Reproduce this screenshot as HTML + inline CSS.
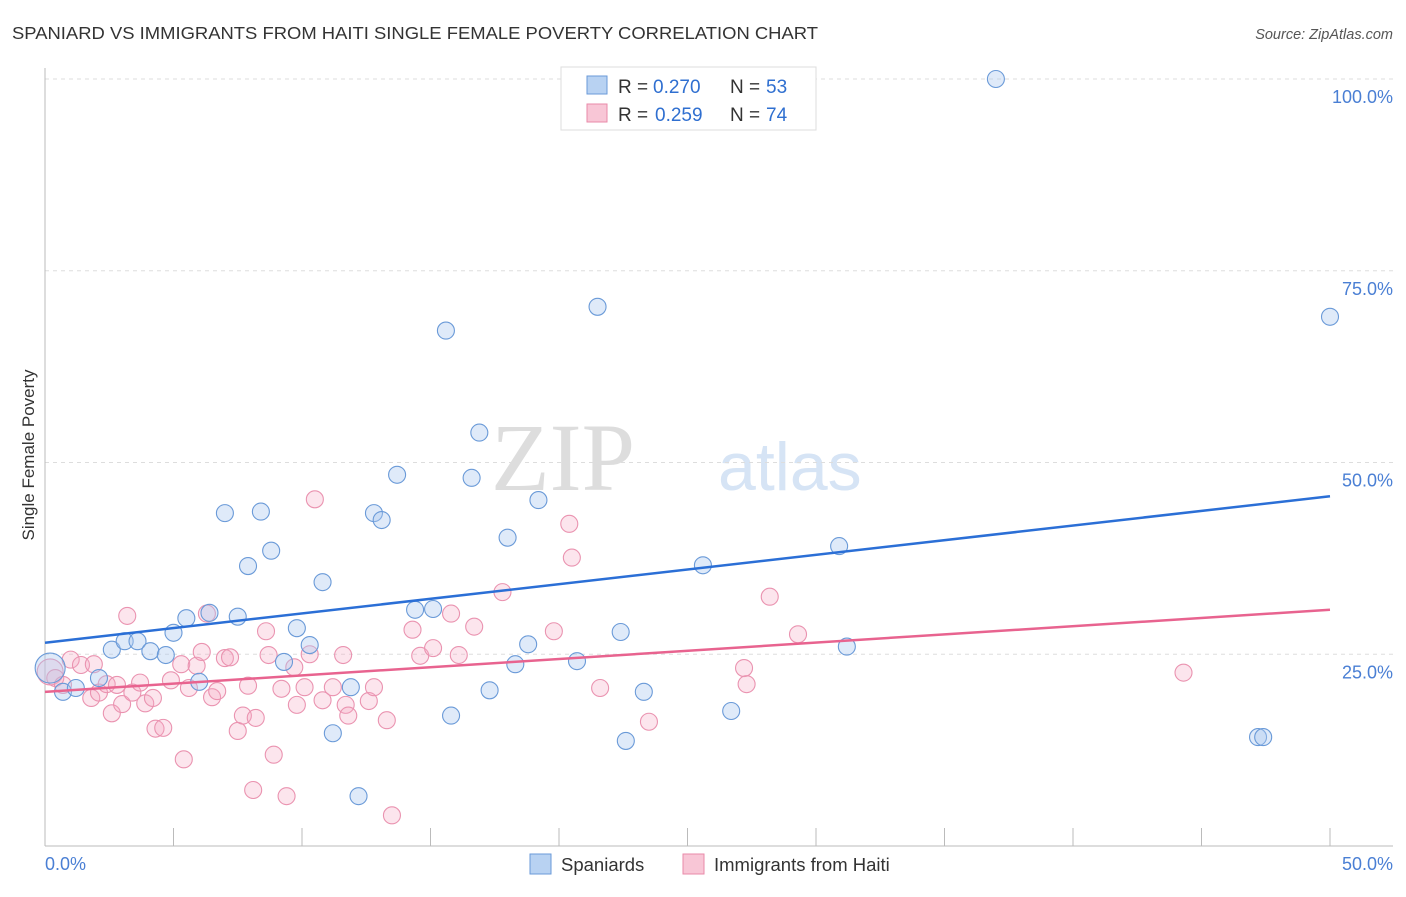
<!DOCTYPE html>
<html><head><meta charset="utf-8"><style>
body{margin:0;background:#fff;font-family:"Liberation Sans",sans-serif;}
</style></head><body>
<svg id="chart" width="1406" height="892" xmlns="http://www.w3.org/2000/svg" style="font-family:'Liberation Sans',sans-serif">
<text x="12" y="39" font-size="17.5" fill="#333" textLength="806" lengthAdjust="spacingAndGlyphs">SPANIARD VS IMMIGRANTS FROM HAITI SINGLE FEMALE POVERTY CORRELATION CHART</text>
<text x="1393" y="39" font-size="14.5" fill="#555" font-style="italic" text-anchor="end">Source: ZipAtlas.com</text>
<text x="635" y="490" font-size="96" fill="#ddd" text-anchor="end" font-family="Liberation Serif,serif">ZIP</text>
<text x="718" y="490" font-size="68" fill="#d6e4f5">atlas</text>
<text transform="translate(34,455) rotate(-90)" font-size="17" fill="#333" text-anchor="middle">Single Female Poverty</text>
<g id="grid"></g><g id="marks"></g>
<g>
<rect x="561" y="67" width="255" height="63" fill="#fff" stroke="#ddd"/>
<rect x="587" y="76" width="20" height="18" fill="#b8d2f2" stroke="#6a9ad8"/>
<rect x="587" y="104" width="20" height="18" fill="#f8c6d6" stroke="#e98aa8"/>
<g font-size="19" fill="#333">
<text x="618" y="93">R =</text><text x="653" y="93" fill="#2f6fd0">0.270</text><text x="730" y="93">N =</text><text x="766" y="93" fill="#2f6fd0">53</text></g>
<g font-size="19" fill="#333">
<text x="618" y="121">R =</text><text x="655" y="121" fill="#2f6fd0">0.259</text><text x="730" y="121">N =</text><text x="766" y="121" fill="#2f6fd0">74</text></g>
</g>
<g>
<rect x="530" y="854" width="21" height="20" fill="#b8d2f2" stroke="#6a9ad8"/>
<text x="561" y="871" font-size="18.5" fill="#333">Spaniards</text>
<rect x="683" y="854" width="21" height="20" fill="#f8c6d6" stroke="#e98aa8"/>
<text x="714" y="871" font-size="18.5" fill="#333">Immigrants from Haiti</text>
</g>
<text x="45" y="870" font-size="18" fill="#4a7fd4">0.0%</text>
<text x="1393" y="870" font-size="18" fill="#4a7fd4" text-anchor="end">50.0%</text>
</svg>
<script>
const yTicks=[25,50,75,100];
const yTickLabels=["25.0%","50.0%","75.0%","100.0%"];
const blueX=[0.2,0.7,1.2,2.1,2.6,3.1,3.6,4.1,4.7,5.0,5.5,6.0,6.4,7.0,7.5,7.9,8.4,8.8,9.3,9.8,10.3,10.8,11.2,11.9,12.2,12.8,13.1,13.7,14.4,15.1,15.6,15.8,16.6,16.9,17.3,18.0,18.3,18.8,19.2,20.7,21.5,22.4,22.6,23.3,25.6,26.7,30.9,31.2,37.0,47.2,47.4,50.0];
const blueY=[23.2,20.1,20.6,21.9,25.6,26.7,26.7,25.4,24.9,27.8,29.7,21.4,30.4,43.4,29.9,36.5,43.6,38.5,24.0,28.4,26.2,34.4,14.7,20.7,6.5,43.4,42.5,48.4,30.8,30.9,67.2,17.0,48.0,53.9,20.3,40.2,23.7,26.3,45.1,24.1,70.3,27.9,13.7,20.1,36.6,17.6,39.1,26.0,100.0,14.2,14.2,69.0];
const pinkX=[0.2,0.4,0.7,1.0,1.4,1.8,1.9,2.1,2.4,2.6,2.8,3.0,3.2,3.4,3.7,3.9,4.2,4.3,4.6,4.9,5.3,5.4,5.6,5.9,6.1,6.3,6.5,6.7,7.0,7.2,7.5,7.7,7.9,8.1,8.2,8.6,8.7,8.9,9.2,9.4,9.7,9.8,10.1,10.3,10.5,10.8,11.2,11.6,11.7,11.8,12.6,12.8,13.3,13.5,14.3,14.6,15.1,15.8,16.1,16.7,17.8,19.8,20.4,20.5,21.6,23.5,27.2,27.3,28.2,29.3,44.3];
const pinkY=[22.7,21.9,21.0,24.3,23.6,19.3,23.7,20.0,21.1,17.3,21.0,18.5,30.0,20.0,21.3,18.6,19.3,15.3,15.4,21.6,23.7,11.3,20.6,23.5,25.3,30.3,19.4,20.2,24.5,24.6,15.0,17.0,20.9,7.3,16.7,28.0,24.9,11.9,20.5,6.5,23.3,18.4,20.7,25.0,45.2,19.0,20.7,24.9,18.4,17.0,18.9,20.7,16.4,4.0,28.2,24.8,25.8,30.3,24.9,28.6,33.1,28.0,42.0,37.6,20.6,16.2,23.2,21.1,32.5,27.6,22.6];
const blueTrend=[26.5,45.6];
const pinkTrend=[20.1,30.8];
const NS="http://www.w3.org/2000/svg";
const X=v=>45+v/50*1285, Y=v=>846-v/100*767;
function mk(tag,attrs,parent){const e=document.createElementNS(NS,tag);for(const k in attrs)e.setAttribute(k,attrs[k]);parent.appendChild(e);return e;}
const grid=document.getElementById('grid'),marks=document.getElementById('marks');
yTicks.forEach((t,i)=>{
 const l=mk('line',{x1:45,x2:1393,y1:Y(t),y2:Y(t),stroke:'#ddd','stroke-dasharray':'4,4'},grid);
 
 
 const tx=mk('text',{x:1393,y:Y(t)+24,'font-size':18,fill:'#4a7fd4','text-anchor':'end'},grid);
 tx.textContent=yTickLabels[i];
 
 
});
const ax=mk('line',{x1:45,x2:1393,y1:846,y2:846,stroke:'#bbb'},grid);


const ay=mk('line',{x1:45,x2:45,y1:68,y2:846,stroke:'#bbb'},grid);


for(let i=0;i<=10;i++){const v=i*5;
 const tk=mk('line',{x1:X(v),x2:X(v),y1:828,y2:846,stroke:'#bbb'},grid);
 
 
}
function dots(xs,ys,fill,stroke,name,bigR){
 xs.forEach((x,i)=>{
  const c=mk('circle',{cx:X(x),cy:Y(ys[i]),r:i===0?bigR:8.5,fill:fill,stroke:stroke,'stroke-width':1.1},marks);
  
  
 });
}
dots(pinkX,pinkY,'rgba(244,170,195,0.3)','#ea93b0','haiti-point',13);
dots(blueX,blueY,'rgba(170,200,240,0.38)','#6a9ad8','spaniard-point',15);
const bl=mk('line',{x1:X(0),y1:Y(blueTrend[0]),x2:X(50),y2:Y(blueTrend[1]),stroke:'#2b6fd6','stroke-width':2.5},marks);


const pl=mk('line',{x1:X(0),y1:Y(pinkTrend[0]),x2:X(50),y2:Y(pinkTrend[1]),stroke:'#e8638f','stroke-width':2.5},marks);


</script>
</body></html>
